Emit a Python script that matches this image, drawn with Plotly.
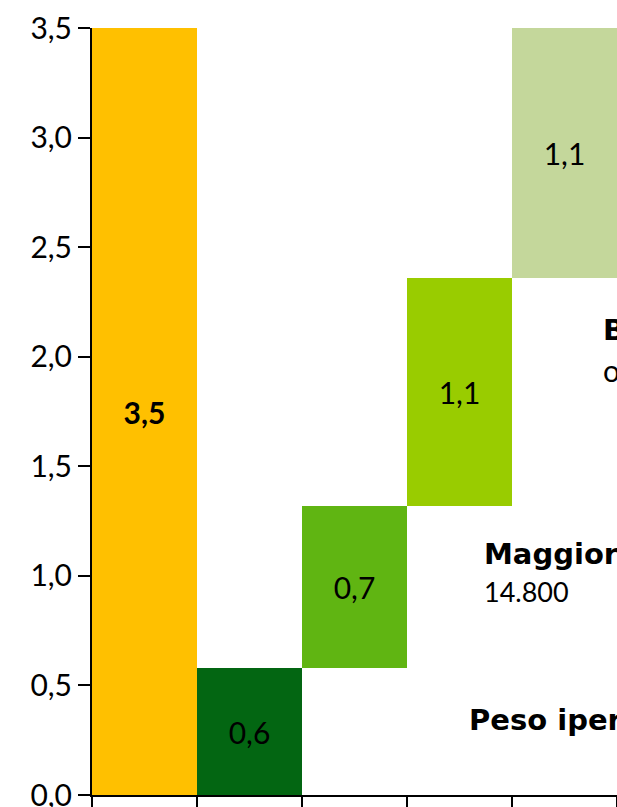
import numpy as np
import plotly.graph_objects as go

# waterfall steps
categories = ["A", "B", "C", "D", "E"]
values = [3.5, 0.58, 0.74, 1.04, 1.14]
labels = ["<b>3,5</b>", "0,6", "0,7", "1,1", "1,1"]
colors = ["#FFC000", "#036612", "#60B512", "#99CC00", "#C4D79B"]

# first bar stands on zero, the rest stack up from the dark green one
bases = [0.0, 0.0] + list(np.cumsum(values[1:-1]).round(2))

y_ticks = [0, 0.5, 1.0, 1.5, 2.0, 2.5, 3.0, 3.5]
y_ticktext = ["0,0", "0,5", "1,0", "1,5", "2,0", "2,5", "3,0", "3,5"]

FONT = "Lato, 'Open Sans', sans-serif"
BOLD = "'DejaVu Sans', sans-serif"

fig = go.Figure(go.Bar(
    x=list(range(len(categories))), y=values, base=bases,
    marker=dict(color=colors, line=dict(width=0)),
    width=1.0,
    text=labels, texttemplate="%{text}",
    textposition="inside", insidetextanchor="middle", textangle=0,
    textfont=dict(family=FONT, size=30, color="black"),
    constraintext="none",
    hoverinfo="skip",
))

# side notes, cut off by the right edge as in the original slide
notes = [
    (3.07, 0.34, "<b>Peso iper</b>", BOLD, 29),
    (3.21, 1.10, "<b>Maggiore</b>", BOLD, 29),
    (3.21, 0.93, "14.800", FONT, 27),
    (4.35, 2.12, "<b>B</b>", BOLD, 29),
    (4.35, 1.94, "o", FONT, 30),
]
for nx, ny, txt, fam, sz in notes:
    fig.add_annotation(
        x=nx, y=ny, xref="x", yref="y", text=txt, showarrow=False,
        xanchor="left", yanchor="middle",
        font=dict(family=fam, size=sz, color="black"),
    )

fig.update_layout(
    width=617, height=830,
    margin=dict(l=92, r=0, t=28, b=35),
    paper_bgcolor="white", plot_bgcolor="white",
    showlegend=False, bargap=0,
    xaxis=dict(
        range=[-0.5, 4.5], tickvals=[-0.5, 0.5, 1.5, 2.5, 3.5, 4.5],
        showticklabels=False, ticks="outside", ticklen=12, tickwidth=2,
        tickcolor="black", showline=True, linecolor="black", linewidth=2,
        showgrid=False, zeroline=False,
    ),
    yaxis=dict(
        range=[0, 3.5], tickvals=y_ticks, ticktext=y_ticktext,
        ticks="outside", ticklen=12, tickwidth=2, tickcolor="black",
        showline=True, linecolor="black", linewidth=2,
        showgrid=False, zeroline=False,
        tickfont=dict(family=FONT, size=30, color="black"),
    ),
)

# page margin off so the 617x807 window shows the chart like the slide crop
fig.write_html(
    "out.html",
    config={"displayModeBar": False},
    post_script="document.body.style.margin='0';document.body.style.overflow='hidden';",
)
